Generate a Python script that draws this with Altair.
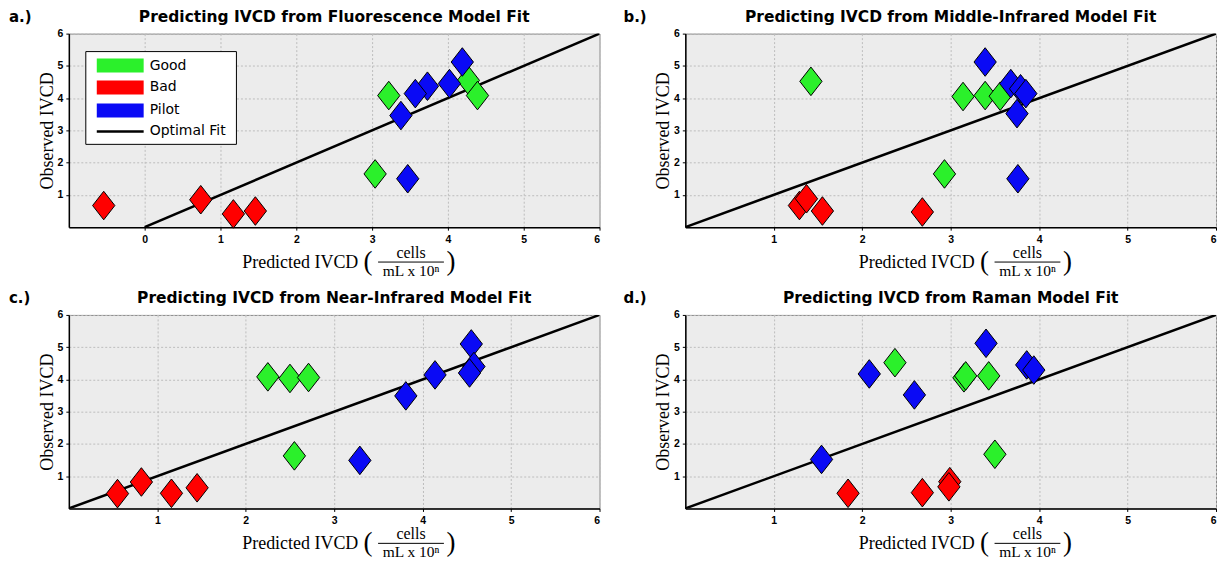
import altair as alt
import pandas as pd

# ---------------- data ----------------
groups = ["Good", "Bad", "Pilot"]
group_colors = ["#2bf02b", "#ff0000", "#0a0af5"]

titles = [
    "Predicting IVCD from Fluorescence Model Fit",
    "Predicting IVCD from Middle-Infrared Model Fit",
    "Predicting IVCD from Near-Infrared Model Fit",
    "Predicting IVCD from Raman Model Fit",
]
letters = ["a.)", "b.)", "c.)", "d.)"]

# Panel a: Fluorescence
a_good_x = [3.22, 3.04, 4.27, 4.39]
a_good_y = [4.08, 1.65, 4.55, 4.08]
a_bad_x = [-0.54, 0.74, 1.17, 1.46]
a_bad_y = [0.67, 0.85, 0.41, 0.50]
a_pilot_x = [4.19, 3.73, 3.57, 4.02, 3.38, 3.47]
a_pilot_y = [5.12, 4.37, 4.14, 4.45, 3.46, 1.50]

# Panel b: Middle-infrared
b_good_x = [1.42, 3.14, 3.39, 3.56, 2.93]
b_good_y = [4.52, 4.05, 4.08, 4.06, 1.65]
b_bad_x = [1.29, 1.37, 1.55, 2.68]
b_bad_y = [0.67, 0.88, 0.50, 0.47]
b_pilot_x = [3.39, 3.68, 3.79, 3.85, 3.75, 3.76]
b_pilot_y = [5.12, 4.45, 4.29, 4.14, 3.52, 1.50]

# Panel c: Near-infrared
c_good_x = [2.25, 2.50, 2.71, 2.55]
c_good_y = [4.08, 4.03, 4.06, 1.63]
c_bad_x = [0.55, 0.82, 1.16, 1.45]
c_bad_y = [0.46, 0.82, 0.47, 0.64]
c_pilot_x = [4.55, 4.14, 4.58, 4.53, 3.81, 3.29]
c_pilot_y = [5.10, 4.14, 4.40, 4.20, 3.49, 1.49]

# Panel d: Raman
d_good_x = [2.37, 3.15, 3.17, 3.43, 3.50]
d_good_y = [4.52, 4.05, 4.11, 4.11, 1.68]
d_bad_x = [1.84, 2.68, 2.99, 2.98]
d_bad_y = [0.47, 0.49, 0.83, 0.67]
d_pilot_x = [1.54, 2.08, 2.59, 3.40, 3.86, 3.94]
d_pilot_y = [1.52, 4.17, 3.52, 5.12, 4.45, 4.29]

fit_x = [0, 6]
fit_y = [0, 6]

y_ticks = [1, 2, 3, 4, 5, 6]
a_x_ticks = [0, 1, 2, 3, 4, 5, 6]
other_x_ticks = [1, 2, 3, 4, 5, 6]

legend_labels = ["Good", "Bad", "Pilot", "Optimal Fit"]

# ---------------- styling ----------------
W, H = 532, 194
DIAMOND = "M0,-1L0.78,0L0,1L-0.78,0Z"
SANS = "DejaVu Sans"
TICKF = "Liberation Sans"
SERIF = "Liberation Serif"
one = pd.DataFrame({"k": [0]})


def make_df(gx, gy, bx, by, px, py):
    rows = []
    for g, xs, ys in (("Good", gx, gy), ("Bad", bx, by), ("Pilot", px, py)):
        for xv, yv in zip(xs, ys):
            rows.append({"x": xv, "y": yv, "group": g})
    return pd.DataFrame(rows)


def txt(text, x, y, size, font=SERIF, weight="normal", align="center", baseline="middle"):
    return alt.Chart(one).mark_text(
        text=text, font=font, fontSize=size, fontWeight=weight, align=align,
        baseline=baseline, color="black"
    ).encode(x=alt.value(x), y=alt.value(y))


def panel(idx, df, xmin, xticks, with_legend=False, letter_x=-60):
    xs = alt.Scale(domain=[xmin, 6], nice=False, zero=False)
    ys = alt.Scale(domain=[0, 6], nice=False, zero=False)

    def xaxis():
        return alt.Axis(values=xticks, title=None, format="d", labelOverlap=False,
                        tickCount=len(xticks))

    def yaxis():
        return alt.Axis(values=y_ticks, title="Observed IVCD", format="d",
                        labelOverlap=False, tickCount=6)

    fit = pd.DataFrame({"x": fit_x, "y": fit_y})
    line = alt.Chart(fit).mark_line(color="black", strokeWidth=2.5, clip=True).encode(
        x=alt.X("x:Q", scale=xs, axis=xaxis()),
        y=alt.Y("y:Q", scale=ys, axis=yaxis()),
    )
    pts = alt.Chart(df).mark_point(
        shape=DIAMOND, size=820, filled=True, opacity=1, stroke="black", strokeWidth=1
    ).encode(
        x=alt.X("x:Q", scale=xs, axis=xaxis()),
        y=alt.Y("y:Q", scale=ys, axis=yaxis()),
        color=alt.Color("group:N", scale=alt.Scale(domain=groups, range=group_colors), legend=None),
    )

    cx = W / 2
    layers = [line, pts]
    if with_legend:
        box = alt.Chart(one).mark_rect(fill="white", stroke="black", strokeWidth=1).encode(
            x=alt.value(17), x2=alt.value(168), y=alt.value(18), y2=alt.value(111))
        layers.append(box)
        rows_y = [32, 54, 77, 98]
        for lab, col, ry in zip(legend_labels[:3], group_colors, rows_y[:3]):
            layers.append(alt.Chart(one).mark_rect(fill=col).encode(
                x=alt.value(28), x2=alt.value(75), y=alt.value(ry - 7), y2=alt.value(ry + 7)))
            layers.append(txt(lab, 81, ry, 14, font=SANS, align="left"))
        layers.append(alt.Chart(one).mark_rule(color="black", strokeWidth=2.5).encode(
            x=alt.value(28), x2=alt.value(75), y=alt.value(rows_y[3])))
        layers.append(txt(legend_labels[3], 81, rows_y[3], 14, font=SANS, align="left"))

    # title row: panel letter + title
    layers += [
        txt(letters[idx], letter_x, -17, 15, font=SANS, weight="bold", align="left"),
        txt(titles[idx], cx, -17, 15.5, font=SANS, weight="bold"),
    ]
    # x-axis title with fraction
    layers += [
        txt("Predicted IVCD", cx - 34, H + 36, 18),
        txt("(", cx + 34, H + 35, 27),
        txt("cells", cx + 77, H + 26, 16),
        alt.Chart(one).mark_rule(color="black", strokeWidth=1).encode(
            x=alt.value(cx + 44), x2=alt.value(cx + 110), y=alt.value(H + 35)),
        txt("mL x 10\u207f", cx + 77, H + 44, 15.5),
        txt(")", cx + 117, H + 35, 27),
    ]

    return alt.layer(*layers).properties(width=W, height=H)


pa = panel(0, make_df(a_good_x, a_good_y, a_bad_x, a_bad_y, a_pilot_x, a_pilot_y), -1, a_x_ticks, True, -60)
pb = panel(1, make_df(b_good_x, b_good_y, b_bad_x, b_bad_y, b_pilot_x, b_pilot_y), 0, other_x_ticks, False, -62)
pc = panel(2, make_df(c_good_x, c_good_y, c_bad_x, c_bad_y, c_pilot_x, c_pilot_y), 0, other_x_ticks, False, -60)
pd_ = panel(3, make_df(d_good_x, d_good_y, d_bad_x, d_bad_y, d_pilot_x, d_pilot_y), 0, other_x_ticks, False, -62)

chart = alt.vconcat(
    alt.hconcat(pa, pb, spacing=22),
    alt.hconcat(pc, pd_, spacing=22),
    spacing=10,
).configure(
    padding=0,
).configure_view(
    fill="#ececec", stroke="#888888", strokeWidth=1,
).configure_axis(
    grid=True, gridColor="#bdbdbd", gridDash=[2, 2], gridWidth=1,
    domainColor="black", domainWidth=1.5,
    tickColor="black", tickSize=3, labelOverlap=False,
    labelFont=TICKF, labelFontWeight="bold", labelFontSize=10.5, labelColor="black",
    titleFont=SERIF, titleFontSize=18, titleFontWeight="normal", titleColor="black",
).configure_axisY(
    titlePadding=1, labelPadding=3,
).configure_axisX(
    labelPadding=4,
)

chart.save("out.html", embed_options={"renderer": "svg", "actions": False})
